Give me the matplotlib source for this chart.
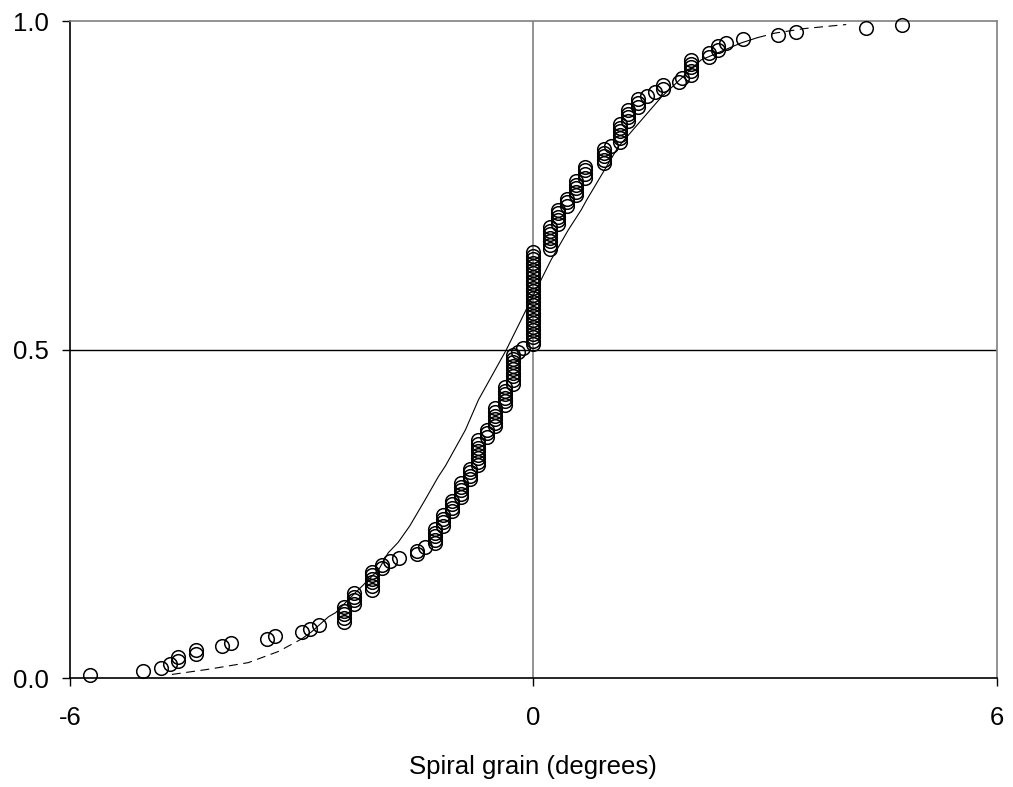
import matplotlib.pyplot as plt
import numpy as np

plt.rcParams['font.family'] = ['Liberation Sans', 'DejaVu Sans']
plt.rcParams['axes.unicode_minus'] = False

# spiral grain observations: distinct values (degrees) and how often each occurs
grain_values = [-5.74, -5.05, -4.82, -4.71, -4.60, -4.37, -4.03, -3.91, -3.45, -3.35,
                -3.00, -2.89, -2.77, -2.45, -2.32, -2.09, -1.96, -1.86, -1.74, -1.51,
                -1.40, -1.27, -1.17, -1.05, -0.94, -0.82, -0.72, -0.60, -0.49, -0.37,
                -0.26, -0.20, -0.13, 0.00, 0.22, 0.32, 0.43, 0.55, 0.67, 0.91,
                1.00, 1.12, 1.23, 1.35, 1.47, 1.58, 1.68, 1.88, 1.93, 2.04,
                2.27, 2.39, 2.49, 2.72, 3.17, 3.40, 4.31, 4.77]
grain_counts = [1, 1, 1, 1, 2, 2, 1, 1, 1, 1,
                1, 1, 1, 5, 4, 6, 2, 1, 1, 2,
                1, 5, 4, 4, 5, 4, 8, 3, 6, 6,
                9, 1, 1, 27, 7, 5, 3, 5, 4, 5,
                1, 6, 4, 3, 1, 1, 2, 1, 1, 5,
                2, 2, 1, 1, 1, 1, 1, 1]

# fitted distribution curve
curve_x = [-4.68, -4.20, -3.69, -3.30, -3.00, -2.87, -2.65, -2.56, -2.30, -2.22,
           -2.00, -1.88, -1.75, -1.60, -1.40, -1.23, -1.14, -0.88, -0.71, -0.35,
           -0.03, 0.23, 0.45, 0.62, 0.69, 1.10, 1.66, 2.17, 2.69, 2.90,
           3.13, 3.52, 4.05]
curve_y = [0.006, 0.014, 0.024, 0.041, 0.060, 0.071, 0.094, 0.100, 0.131, 0.140,
           0.166, 0.191, 0.207, 0.232, 0.272, 0.307, 0.323, 0.378, 0.424, 0.500,
           0.576, 0.637, 0.682, 0.713, 0.728, 0.809, 0.885, 0.941, 0.967, 0.975,
           0.982, 0.989, 0.995]

obs = np.repeat(grain_values, grain_counts)
n = len(obs)
ecdf = np.arange(1, n + 1) / (n + 1)

cx = np.array(curve_x)
cy = np.array(curve_y)
low = cx <= -3.0
mid = (cx >= -3.0) & (cx <= 2.9)
high = cx >= 2.9

fig = plt.figure(figsize=(10.13, 7.87), dpi=100)
ax = fig.add_axes([0.069, 0.138, 0.915, 0.835])

ax.axvline(0, color='#808080', lw=1.2, zorder=1)
ax.axhline(0.5, color='black', lw=1.0, zorder=1)

ax.plot(cx[mid], cy[mid], color='black', lw=0.8, zorder=2)
ax.plot(cx[low], cy[low], color='black', lw=0.8, ls=(0, (8, 5)), zorder=2)
ax.plot(cx[high], cy[high], color='black', lw=0.8, ls=(0, (8, 5)), zorder=2)

ax.plot(obs, ecdf, 'o', mfc='none', mec='black', ms=9.8, mew=1.1,
        clip_on=False, zorder=3)

ax.set_xlim(-6, 6)
ax.set_ylim(0, 1)
ax.set_xticks([-6, 0, 6])
ax.set_yticks([0.0, 0.5, 1.0])
ax.set_yticklabels(['0.0', '0.5', '1.0'])
ax.tick_params(direction='out', length=6, width=1.0, labelsize=18.5)
ax.tick_params(axis='x', pad=14)
ax.tick_params(axis='y', pad=9)

ax.spines['left'].set_color('black')
ax.spines['bottom'].set_color('black')
ax.spines['top'].set_color('#808080')
ax.spines['right'].set_color('#808080')
for s in ax.spines.values():
    s.set_linewidth(1.2)

ax.set_xlabel('Spiral grain (degrees)', fontsize=18.5, labelpad=18)

fig.savefig('out.png', dpi=100)
